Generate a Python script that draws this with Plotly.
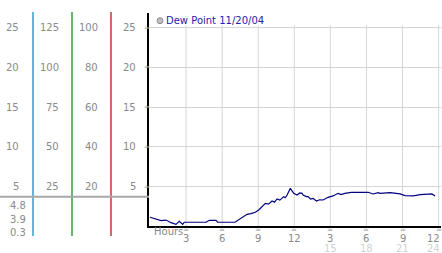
import plotly.graph_objects as go

# ---- data ----
hours = [0.0, 0.5, 0.92, 1.33, 1.75, 2.16, 2.44, 2.72, 2.85, 4.66, 4.93, 5.49, 5.63, 7.07,
         7.65, 8.07, 8.4, 8.76, 9.04, 9.3, 9.59, 9.85, 10.15, 10.35, 10.57, 10.8, 11.12, 11.25,
         11.4, 11.67, 11.95, 12.23, 12.45, 12.65, 12.73, 13.0, 13.14, 13.35, 13.56, 13.84,
         14.1, 14.39, 14.81, 15.22, 15.64, 15.9, 16.2, 16.75, 18.14, 18.55, 18.97, 19.13,
         19.97, 20.8, 21.21, 21.9, 22.46, 23.44, 23.71]
dew = [1.15, 0.9, 0.72, 0.8, 0.47, 0.26, 0.64, 0.26, 0.52, 0.52, 0.77, 0.77, 0.52, 0.52,
       1.09, 1.52, 1.6, 1.77, 2.06, 2.5, 2.9, 2.8, 3.19, 3.05, 3.45, 3.3, 3.74, 3.6,
       3.95, 4.79, 4.16, 3.95, 4.2, 4.16, 3.95, 3.75, 3.74, 3.45, 3.53, 3.19,
       3.35, 3.32, 3.66, 3.83, 4.16, 4.0, 4.16, 4.29, 4.29, 4.08, 4.24, 4.16,
       4.24, 4.08, 3.87, 3.83, 3.99, 4.08, 3.83]

main_ticks = [25, 20, 15, 10, 5]
col1_labels = ["25", "20", "15", "10", "5"]
col2_labels = ["125", "100", "75", "50", "25"]
col3_labels = ["100", "80", "60", "40", "20"]
summary_labels = ["4.8", "3.9", "0.3"]
hour_ticks = [3, 6, 9, 12, 15, 18, 21, 24]
hour_row1 = ["3", "6", "9", "12", "3", "6", "9", "12"]
hour_row2 = ["", "", "", "", "15", "18", "21", "24"]
legend_text = "Dew Point 11/20/04"

W, H = 442, 253
FONT = "DejaVu Sans"
GRAY = "#8a8a8a"


def px(x):
    return x / W


def py(y):
    return 1 - y / H


fig = go.Figure()
fig.add_trace(go.Scatter(x=hours, y=dew, mode="lines",
                         line=dict(color="#000080", width=1.2), showlegend=False,
                         hoverinfo="skip"))

shapes = []
for h in hour_ticks:
    shapes.append(dict(type="line", xref="x", yref="y", x0=h, x1=h, y0=0, y1=25.3,
                       line=dict(color="#d6d6d6", width=1), layer="below"))
for xp, c in [(33, "#3399cc"), (72, "#33a033"), (111, "#cc3333")]:
    shapes.append(dict(type="line", xref="paper", yref="paper", x0=px(xp), x1=px(xp),
                       y0=py(236), y1=py(12), line=dict(color=c, width=1.5)))
shapes.append(dict(type="line", xref="paper", yref="paper", x0=0, x1=px(149),
                   y0=py(196.7), y1=py(196.7), line=dict(color="#a8a8a8", width=2)))
shapes.append(dict(type="circle", xref="paper", yref="paper", x0=px(157), x1=px(163),
                   y0=py(23.7), y1=py(17.7), fillcolor="#c0c0c0",
                   line=dict(color="#8a8a8a", width=1)))

ann = []
fnt = dict(family=FONT, size=10, color=GRAY)


def A(**kw):
    kw.setdefault("showarrow", False)
    kw.setdefault("yanchor", "middle")
    kw.setdefault("xanchor", "center")
    ann.append(kw)


for i, v in enumerate(main_ticks):
    A(x=px(20.5), y=v, xref="paper", yref="y", text=col1_labels[i], xanchor="right", font=fnt)
    A(x=px(60.5), y=v, xref="paper", yref="y", text=col2_labels[i], xanchor="right", font=fnt)
    A(x=px(99.5), y=v, xref="paper", yref="y", text=col3_labels[i], xanchor="right", font=fnt)
    A(x=px(138), y=v, xref="paper", yref="y", text=str(v), xanchor="right", font=fnt)
    A(x=px(146.5), y=v, xref="paper", yref="y", text="≈",
      font=dict(family=FONT, size=7, color="#a0a0a0"))
for lbl, yy in zip(summary_labels, [205, 219, 232.7]):
    A(x=px(27.5), y=py(yy), xref="paper", yref="paper", text=lbl, xanchor="right", font=fnt)
for h, r1, r2 in zip(hour_ticks, hour_row1, hour_row2):
    last = h == hour_ticks[-1]
    lx = dict(x=px(442), xref="paper", xanchor="right") if last else dict(x=h, xref="x")
    A(x=h, y=py(230), xref="x", yref="paper", text="≈",
      font=dict(family=FONT, size=7, color="#a0a0a0"))
    A(y=py(238.5), yref="paper", text=r1, font=fnt, **lx)
    if r2:
        A(y=py(248.5), yref="paper", text=r2,
          font=dict(family=FONT, size=10, color="#d2d2d2"), **lx)
A(x=px(152), y=py(231.5), xref="paper", yref="paper", text="Hours", xanchor="left", font=fnt)
A(x=px(163.5), y=py(20.7), xref="paper", yref="paper", text=legend_text, xanchor="left",
  font=dict(family=FONT, size=10, color="#2424a8"))

fig.update_layout(
    width=W, height=H, margin=dict(l=0, r=0, t=0, b=0),
    paper_bgcolor="white", plot_bgcolor="white",
    shapes=shapes, annotations=ann,
    xaxis=dict(domain=[px(149), px(441)], range=[-0.083, 24.2], showgrid=False,
               zeroline=False, showticklabels=False, ticks="",
               showline=True, linecolor="black", linewidth=1.5),
    yaxis=dict(domain=[py(226), py(13)], range=[0.05, 26.84], showgrid=True,
               gridcolor="#d6d6d6", gridwidth=1, tick0=0, dtick=5, zeroline=False,
               showticklabels=False, ticks="",
               showline=True, linecolor="black", linewidth=2),
)

fig.write_html("out.html")
